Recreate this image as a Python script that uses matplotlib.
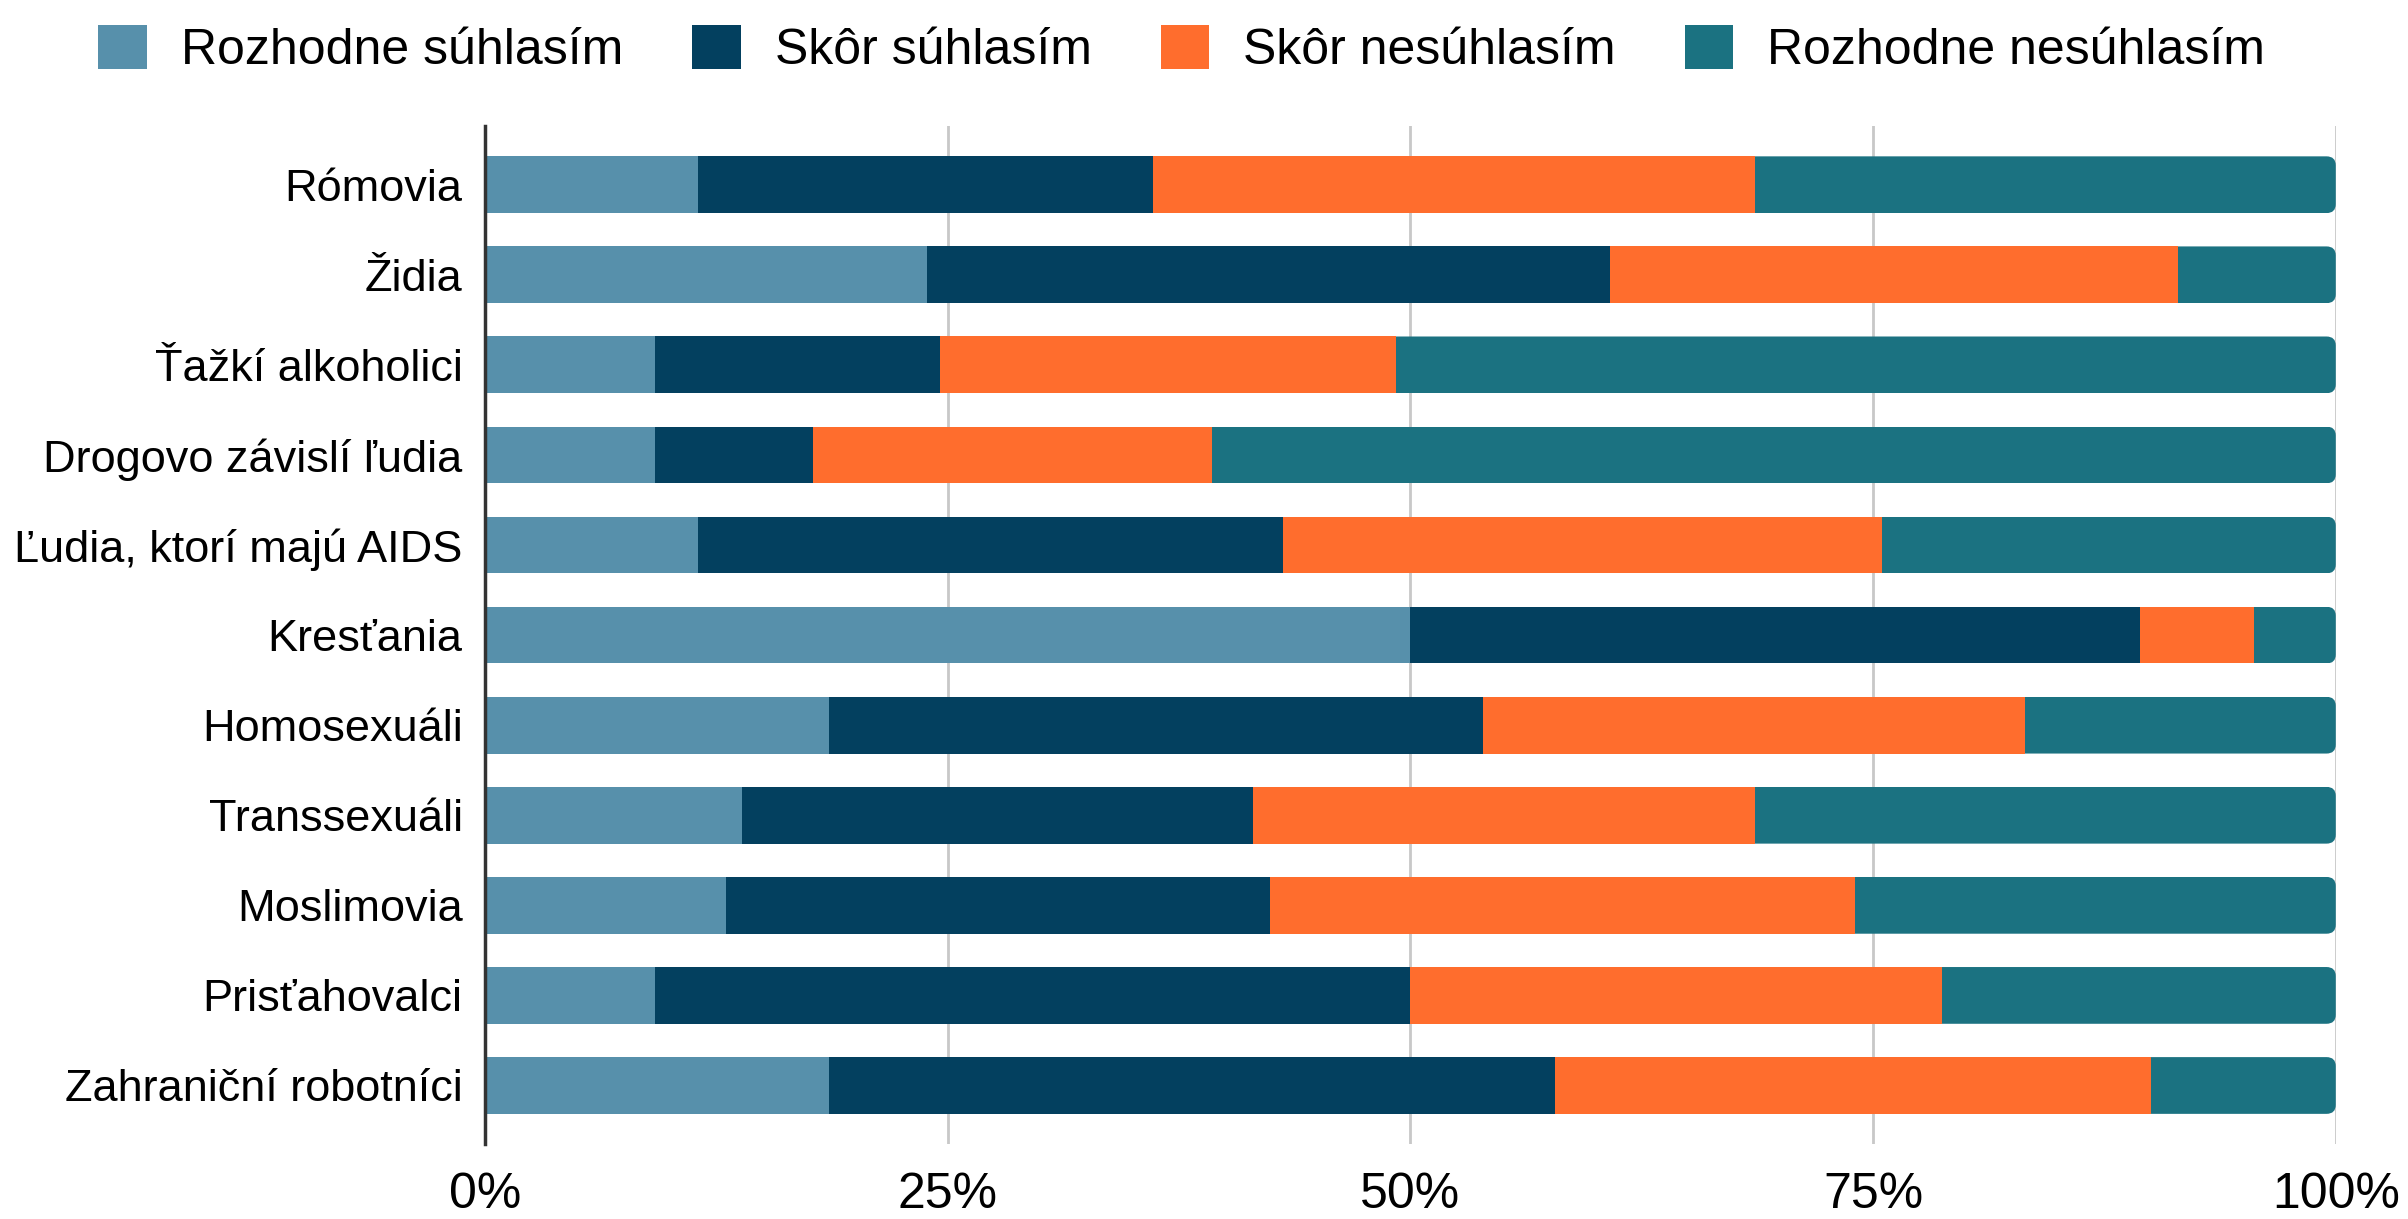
import matplotlib.pyplot as plt
import numpy as np
from matplotlib.patches import FancyBboxPatch

plt.rcParams['font.family'] = ['Liberation Sans', 'DejaVu Sans']

groups = ["Rómovia", "Židia", "Ťažkí alkoholici", "Drogovo závislí ľudia",
          "Ľudia, ktorí majú AIDS", "Kresťania", "Homosexuáli", "Transsexuáli",
          "Moslimovia", "Prisťahovalci", "Zahraniční robotníci"]
series = ["Rozhodne súhlasím", "Skôr súhlasím", "Skôr nesúhlasím", "Rozhodne nesúhlasím"]

strongly_agree = [11.5, 23.9, 9.2, 9.2, 11.5, 50.0, 18.6, 13.9, 13.0, 9.2, 18.6]
agree = [24.6, 36.9, 15.4, 8.5, 31.6, 39.4, 35.3, 27.6, 29.4, 40.8, 39.2]
disagree = [32.5, 30.7, 24.6, 21.6, 32.4, 6.2, 29.3, 27.1, 31.6, 28.7, 32.2]
strongly_disagree = [31.4, 8.5, 50.8, 60.7, 24.5, 4.4, 16.8, 31.4, 26.0, 21.3, 10.0]

colors = ["#5790ab", "#03405f", "#ff6d2d", "#1b7281"]

fig = plt.figure(figsize=(24.08, 12.19), dpi=100)
ax = fig.add_axes([0.2014, 0.0615, 0.7686, 0.835])

y = np.arange(len(groups))
left = np.zeros(len(groups))
bh = 0.63
for vals, name, c in zip([strongly_agree, agree, disagree, strongly_disagree], series, colors):
    bars = ax.barh(y, vals, left=left, height=bh, color=c, label=name, zorder=3)
    left += np.array(vals)

# round the right end of each bar
for b in bars:
    x0, y0 = b.get_x(), b.get_y()
    w, h = b.get_width(), b.get_height()
    clip = FancyBboxPatch((x0 - 2, y0), w + 2, h,
                          boxstyle="round,pad=0,rounding_size=0.5",
                          mutation_aspect=0.2, transform=ax.transData)
    b.set_clip_path(clip)

ax.set_xlim(0, 100)
ax.set_ylim(len(groups) - 0.35, -0.65)
ax.set_yticks(y)
ax.set_yticklabels(groups, fontsize=32.5)
ax.set_xticks([0, 25, 50, 75, 100])
ax.set_xticklabels(["0%", "25%", "50%", "75%", "100%"], fontsize=36)
ax.tick_params(length=0)
ax.tick_params(axis='y', pad=16)
ax.tick_params(axis='x', pad=20)
ax.xaxis.grid(True, color="#c8c8c8", linewidth=2, zorder=0)
ax.set_axisbelow(True)
for s in ["top", "right", "bottom"]:
    ax.spines[s].set_visible(False)
ax.spines["left"].set_color("#333333")
ax.spines["left"].set_linewidth(2.5)
ax.spines["left"].set_zorder(4)

fig.legend(loc="upper left", bbox_to_anchor=(0.0305, 1.0), ncol=4, frameon=False,
           fontsize=36, handlelength=0.97, handleheight=0.97, handletextpad=0.68,
           columnspacing=1.38, borderaxespad=0.1)

fig.savefig("out.png", dpi=100)
